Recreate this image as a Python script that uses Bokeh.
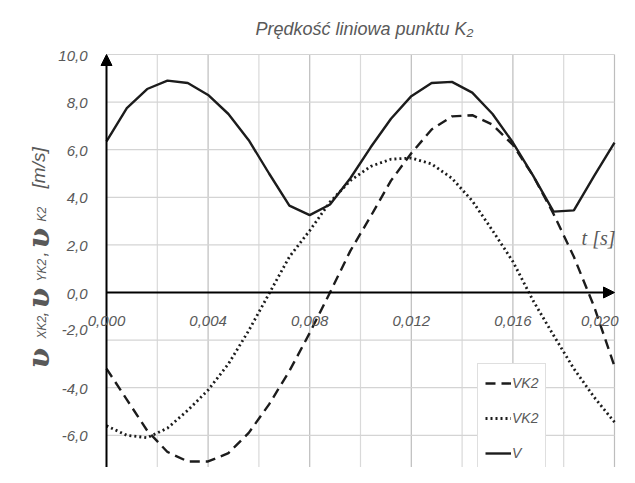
from math import pi
from bokeh.plotting import figure
from bokeh.models import (ColumnDataSource, Legend, LegendItem, Label, LabelSet,
                          Arrow, NormalHead, Range1d)
from bokeh.core.properties import value
from bokeh.embed import file_html
from bokeh.resources import INLINE

# ---------------- data ----------------
t = [0.0000, 0.0008, 0.0016, 0.0024, 0.0032, 0.0040, 0.0048, 0.0056, 0.0064,
     0.0072, 0.0080, 0.0088, 0.0096, 0.0104, 0.0112, 0.0120, 0.0128, 0.0136,
     0.0144, 0.0152, 0.0160, 0.0168, 0.0176, 0.0184, 0.0192, 0.0200]
vx = [-3.2, -4.5, -5.8, -6.7, -7.1, -7.1, -6.75, -5.9, -4.7, -3.3, -1.7, 0.0,
      1.75, 3.2, 4.7, 5.85, 6.85, 7.4, 7.45, 7.05, 6.2, 4.9, 3.3, 1.5, -0.6, -3.1]
vy = [-5.6, -6.0, -6.1, -5.7, -4.95, -4.1, -3.0, -1.6, -0.05, 1.5, 2.6, 3.8,
      4.7, 5.3, 5.6, 5.65, 5.4, 4.8, 3.85, 2.6, 1.3, -0.35, -1.8, -3.2, -4.4, -5.45]
v = [6.35, 7.75, 8.55, 8.9, 8.8, 8.3, 7.5, 6.4, 5.0, 3.65, 3.25, 3.7, 4.8, 6.1,
     7.3, 8.25, 8.8, 8.85, 8.4, 7.5, 6.3, 4.9, 3.4, 3.45, 4.9, 6.3]

x_ticks = [0.000, 0.004, 0.008, 0.012, 0.016, 0.020]
x_tick_labels = ["0,000", "0,004", "0,008", "0,012", "0,016", "0,020"]
x_grid_major = [0.004, 0.008, 0.012, 0.016, 0.020]
x_grid_minor = [0.002, 0.006, 0.010, 0.014, 0.018]
y_ticks = [-6.0, -4.0, 0.0, 2.0, 4.0, 6.0, 8.0, 10.0]
y_tick_labels = ["-6,0", "-4,0", "0,0", "2,0", "4,0", "6,0", "8,0", "10,0"]
y_tick_m2 = -2.0
y_tick_m2_label = "-2,0"
y_grid = [-6.0, -4.0, -2.0, 2.0, 4.0, 6.0, 8.0, 10.0]

title_text = "Prędkość liniowa punktu K₂"
legend_labels = ["VK2", "VK2", "V"]

# axis extents (data units)
X0, X1 = 0.0, 0.020
Y0, Y1 = -8.0, 10.0

# ---------------- layout ----------------
W, H = 619, 467
PX_X0, PX_X1 = 106, 614      # pixel columns of t=0 and t=0.020
PX_Y0, PX_YT = 292, 54       # pixel rows of v=0 and v=10
SX = (PX_X1 - PX_X0) / (X1 - X0)
SY = (PX_Y0 - PX_YT) / (Y1 - 0.0)
xr = Range1d(X0 - PX_X0 / SX, X1 + (W - PX_X1) / SX)
yr = Range1d(-(H - PX_Y0) / SY, PX_Y0 / SY)

TXT = "#595959"
LINE = "#1c1c1c"
NARROW = "Liberation Sans Narrow, Liberation Sans"

p = figure(width=W, height=H, output_backend="svg", toolbar_location=None,
           x_range=xr, y_range=yr, min_border=0)
p.xaxis.visible = False
p.yaxis.visible = False
p.xgrid.visible = False
p.ygrid.visible = False
p.outline_line_color = None
p.background_fill_color = "white"
p.border_fill_color = "white"

# grid lines restricted to the plot area
p.segment(x0=x_grid_minor, y0=[Y0] * len(x_grid_minor), x1=x_grid_minor,
          y1=[Y1] * len(x_grid_minor), line_color="#d9d9d9", line_width=1.2)
p.segment(x0=x_grid_major, y0=[Y0] * len(x_grid_major), x1=x_grid_major,
          y1=[Y1] * len(x_grid_major), line_color="#bdbdbd", line_width=1.2)
p.segment(x0=[X0] * len(y_grid), y0=y_grid, x1=[X1] * len(y_grid), y1=y_grid,
          line_color="#d4d4d4", line_width=1.2)

src = ColumnDataSource(dict(t=t, vx=vx, vy=vy, v=v))
r_vx = p.line("t", "vx", source=src, line_color=LINE, line_width=2.4, line_dash="10 6")
r_vy = p.line("t", "vy", source=src, line_color=LINE, line_width=2.8, line_dash="2 3")
r_v = p.line("t", "v", source=src, line_color=LINE, line_width=2.4)

# axes with arrows
p.add_layout(Arrow(end=NormalHead(size=11, fill_color="black", line_color="black"),
                   x_start=X0, y_start=0, x_end=X1, y_end=0,
                   line_color="black", line_width=2))
p.add_layout(Arrow(end=NormalHead(size=11, fill_color="black", line_color="black"),
                   x_start=X0, y_start=Y0, x_end=X0, y_end=Y1,
                   line_color="black", line_width=2))

# tick labels (x)
xsrc = ColumnDataSource(dict(x=x_ticks[:-1], y=[0.0] * (len(x_ticks) - 1),
                             text=x_tick_labels[:-1]))
p.add_layout(LabelSet(x="x", y="y", text="text", source=xsrc, y_offset=-28,
                      text_align="center", text_baseline="middle",
                      text_font=value(NARROW), text_font_style="italic",
                      text_font_size="15px", text_color=TXT))
# last label kept inside the canvas
p.add_layout(Label(x=x_ticks[-1], y=0.0, text=x_tick_labels[-1], x_offset=4, y_offset=-28,
                   text_align="right", text_baseline="middle",
                   text_font=NARROW, text_font_style="italic",
                   text_font_size="15px", text_color=TXT))
# tick labels (y)
ysrc = ColumnDataSource(dict(x=[X0] * len(y_ticks), y=y_ticks, text=y_tick_labels))
p.add_layout(LabelSet(x="x", y="y", text="text", source=ysrc, x_offset=-19, y_offset=-1,
                      text_align="right", text_baseline="middle",
                      text_font=value(NARROW), text_font_style="italic",
                      text_font_size="15px", text_color=TXT))
p.add_layout(Label(x=X0, y=y_tick_m2, text=y_tick_m2_label, x_offset=-19, y_offset=10,
                   text_align="right", text_baseline="middle",
                   text_font=NARROW, text_font_style="italic",
                   text_font_size="15px", text_color=TXT))

# title
p.add_layout(Label(x=364, y=H - 28, x_units="screen", y_units="screen", text=title_text,
                   text_align="center", text_baseline="middle",
                   text_font="Liberation Sans", text_font_style="italic",
                   text_font_size="18px", text_color=TXT))

# t [s]
p.add_layout(Label(x=615, y=H - 237, x_units="screen", y_units="screen", text="t [s]",
                   text_align="right", text_baseline="middle",
                   text_font="Liberation Serif", text_font_style="italic",
                   text_font_size="20px", text_color=TXT))

# y axis title (rotated, composed)
def ylab(ypix, text, size, font, base_x, style="italic"):
    p.add_layout(Label(x=base_x, y=H - ypix, x_units="screen", y_units="screen",
                       text=text, angle=pi / 2, text_align="left",
                       text_baseline="alphabetic", text_font=font,
                       text_font_style=style, text_font_size=size, text_color=TXT))

SER = "DejaVu Serif"
SAN = "Liberation Sans"
ylab(368, "ʋ", "30px", SER, 38, "bold italic")
ylab(338, "XK2", "12px", SAN, 41)
ylab(316, ",", "18px", SAN, 39)
ylab(308, "ʋ", "30px", SER, 38, "bold italic")
ylab(281, "YK2", "12px", SAN, 41)
ylab(256, ",", "18px", SAN, 39)
ylab(248, "ʋ", "30px", SER, 38, "bold italic")
ylab(221, "K2", "12px", SAN, 41)
ylab(188, "[m/s]", "19px", SAN, 38)

legend = Legend(items=[LegendItem(label=legend_labels[0], renderers=[r_vx]),
                       LegendItem(label=legend_labels[1], renderers=[r_vy]),
                       LegendItem(label=legend_labels[2], renderers=[r_v])],
                location=(477, -6), orientation="vertical",
                border_line_color="#bfbfbf", border_line_width=1,
                background_fill_color="white", background_fill_alpha=1.0,
                padding=7, spacing=11, margin=0,
                glyph_width=26, glyph_height=24, label_height=24, label_standoff=1,
                label_text_font=NARROW, label_text_font_style="italic",
                label_text_font_size="14px", label_text_color=TXT)
p.add_layout(legend, "center")

open("out.html", "w").write(file_html(p, INLINE))
